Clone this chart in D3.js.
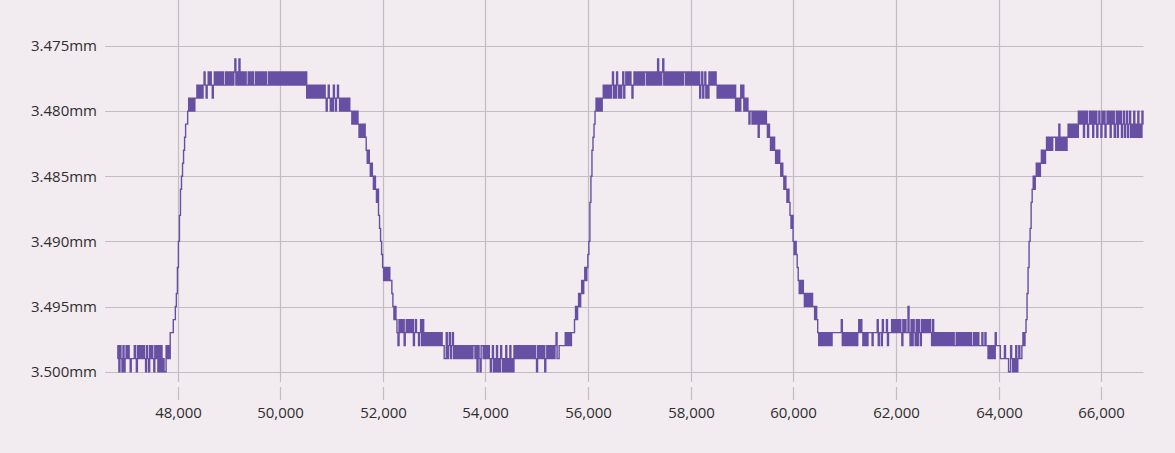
<!DOCTYPE html>
<html><head><meta charset="utf-8">
<script src="https://cdn.jsdelivr.net/npm/d3@7"></script>
<style>
html,body{margin:0;padding:0;background:#f2ecf0;}
svg{display:block;}
</style></head><body>
<svg id="chart" width="1175" height="453"></svg>
<script>
// ---- data ----
// one reading every 20 units of x, starting at sampleStart
const sampleStart = 46825;
const sampleStep = 20;
// each letter is one reading: "a" = 3.475mm, "b" = 3.476mm, ... "z" = 3.500mm
const levelBase = 3.475;
const levelStep = 0.001;

const segLow1   = "yxzxyzxzyx yxyzyyyxyz xyxyxyxyzx yzxyxyzxyx zxzxzyzzxy";
const segRise1  = "xywwwvvutr pnlkjihggf efefefeede dededcdedc";
const segTop1   = "dcdedcdcdc dcdcddcdcd cdcdcbdcdb dcdcdcddcd cdcddcdcdc dcdcdcddcd cdcdcdcdcd cdcdcdcdcd cdcdcdcdcd cdcdcedede dedededede";
const segFall1  = "dedefedefe fdefedefef efefefeffg fgfgfghghg hghijijkjk lklmlnopqr srsrsrsstu vuvwxvwvwv xwvwvwvwvx wvwwxwvxvx wxwxwxwxwx wxwxwxwxxy";
const segLow2   = "ywyxwyxwyx yxyxyxyxyx yxyxyxyxxy xzxyzxxyxy xyxyzyxzyz xzyzxyzyzx zyzxzyzxyx yxyxyxyxyx yxyxyxyxyz xyxyxyxzyx yxyxyxyxwy yxxxxxxwxw";
const segRise2  = "xwxwwwvuvu tutstsrsrq pmkihgfefe fefededede dedcedecde dedcedcdcd";
const segTop2   = "cdedcdcdcd cdcdccdcdc dcdcdcdbdc dcbdcdcdcd cdcdcdcdcd cdccdcdcdc dcdcdcdced cedcedecdc dcdcdedede dedededede dedfefefde";
const segFall2  = "dfefefgffg fgfgfhfgfg fgfghghihi hijijijkjk lklmlmnonp qpqrststst ututututuu vuvwxwxwxw xwxwxwxwww";
const segLow3   = "wwwwwwvxwx wxwxwxwxwx wxwvwvwxwx wxwwwwxwww wvxwwxvwww vxwwwvwvwv wvwvwxvwvw wuwxvxvwxv xvwxvwvwvw vwvwxvxwxw xwxwxwxwxw xwxwxwxxwx wxwxwxwxwx wxwxxwxwxw xxxwxxwxxy xyxyxywxxx xyyyyxyyyz zxyzyzxzyx";
const segRise3  = "yyxwxwvtrp omlklkjkjk jijijihihi hihhhihigi hihihihghg hghghghfgf";
const segTop3   = "gfhfgfhgfg fhfgfhgfgh fgfhgfgfhf gfhgfhfgfh gfhgfhgfhg hfhghfhghfg";

const xTicks = [48000, 50000, 52000, 54000, 56000, 58000, 60000, 62000, 64000, 66000];
const yTicks = [3.475, 3.480, 3.485, 3.490, 3.495, 3.500];

// ---- build ----
const codes = [segLow1, segRise1, segTop1, segFall1, segLow2, segRise2, segTop2, segFall2, segLow3, segRise3, segTop3]
  .join("").replace(/\s+/g, "");
const points = Array.from(codes, (ch, i) => ({
  x: sampleStart + i * sampleStep,
  v: levelBase + (ch.charCodeAt(0) - 97) * levelStep
}));

const svg = d3.select("#chart");
const plotLeft = 105, plotRight = 1143.5, gridBottom = 382;
const x = d3.scaleLinear().domain([46584, 66825]).range([plotLeft, plotRight]);
const y = d3.scaleLinear().domain([3.475, 3.500]).range([46, 371.7]);

const gridColor = "#c4bcc3";
const textColor = "#2e2e2e";
const font = "'Open Sans', 'Noto Sans', sans-serif";

// vertical grid lines
svg.append("g").selectAll("line").data(xTicks).join("line")
  .attr("x1", d => Math.round(x(d)) + 0.5).attr("x2", d => Math.round(x(d)) + 0.5)
  .attr("y1", 0).attr("y2", gridBottom)
  .attr("stroke", gridColor).attr("stroke-width", 1.2);

// horizontal grid lines
svg.append("g").selectAll("line").data(yTicks).join("line")
  .attr("x1", plotLeft).attr("x2", plotRight)
  .attr("y1", d => Math.round(y(d)) + 0.5).attr("y2", d => Math.round(y(d)) + 0.5)
  .attr("stroke", gridColor).attr("stroke-width", 1.2);

// x axis (tick marks + labels)
const xAxis = d3.axisBottom(x).tickValues(xTicks).tickFormat(d3.format(",")).tickSize(13).tickPadding(7);
const gx = svg.append("g").attr("transform", "translate(0,387)").call(xAxis);
gx.select(".domain").remove();
gx.selectAll(".tick line").attr("stroke", gridColor).attr("stroke-width", 1.2);
gx.selectAll(".tick").attr("transform", d => `translate(${Math.round(x(d)) + 0.5},0)`);
gx.selectAll("text").attr("fill", textColor).style("font-family", font).style("font-size", "15px");

// y axis labels
const yAxis = d3.axisLeft(y).tickValues(yTicks).tickFormat(d => d3.format(".3f")(d) + "mm").tickSize(0).tickPadding(0);
const gy = svg.append("g").attr("transform", "translate(97,0)").call(yAxis);
gy.select(".domain").remove();
gy.selectAll("text").attr("fill", textColor).style("font-family", font).style("font-size", "15px");

// data line
const line = d3.line().x(d => x(d.x)).y(d => y(d.v)).curve(d3.curveStep);
svg.append("path").datum(points)
  .attr("d", line)
  .attr("fill", "none")
  .attr("stroke", "#6750a4")
  .attr("stroke-width", 1.4)
  .attr("stroke-linejoin", "miter");
</script>
</body></html>
